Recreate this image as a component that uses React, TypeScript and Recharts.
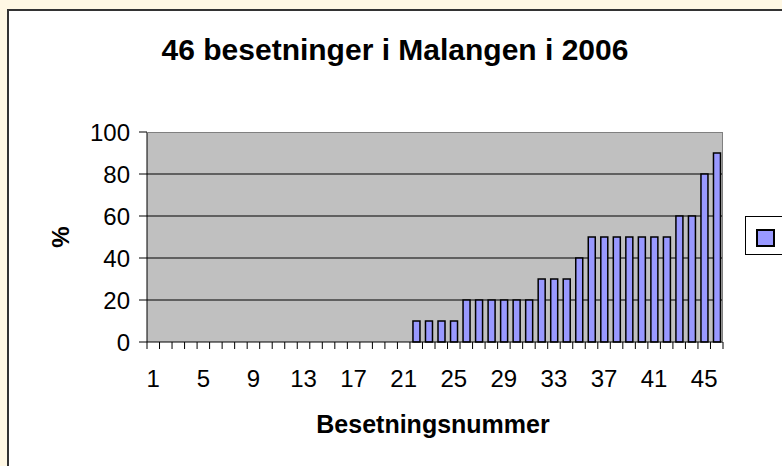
import React from 'react';
import { BarChart, Bar, XAxis, YAxis, CartesianGrid } from 'recharts';

const CATEGORIES = [
  '1', '2', '3', '4', '5', '6', '7', '8', '9', '10',
  '11', '12', '13', '14', '15', '16', '17', '18', '19', '20',
  '21', '22', '23', '24', '25', '26', '27', '28', '29', '30',
  '31', '32', '33', '34', '35', '36', '37', '38', '39', '40',
  '41', '42', '43', '44', '45', '46',
];

const PERCENT = [
  0, 0, 0, 0, 0, 0, 0, 0, 0, 0,
  0, 0, 0, 0, 0, 0, 0, 0, 0, 0,
  0, 10, 10, 10, 10, 20, 20, 20, 20, 20,
  20, 30, 30, 30, 40, 50, 50, 50, 50, 50,
  50, 50, 60, 60, 80, 90,
];

const Y_TICKS = [0, 20, 40, 60, 80, 100];
const GRID_VALUES = [20, 40, 60, 80];

const TITLE = '46 besetninger i Malangen i 2006';
const X_TITLE = 'Besetningsnummer';
const Y_TITLE = '%';

const W = 782;
const H = 466;
const PLOT = { left: 147, top: 132, right: 723, bottom: 342 };
const BAND = (PLOT.right - PLOT.left) / CATEGORIES.length;
const FONT = '"Liberation Sans", Arial, sans-serif';

const data = CATEGORIES.map((c, i) => ({ name: c, value: PERCENT[i] }));

function XTick(props: any) {
  const { x, y, payload, index } = props;
  const last = index === CATEGORIES.length - 1;
  return (
    <g>
      <line x1={x - BAND / 2} x2={x - BAND / 2} y1={y} y2={y + 7} stroke="#000" />
      {last && <line x1={x + BAND / 2} x2={x + BAND / 2} y1={y} y2={y + 7} stroke="#000" />}
      {index % 4 === 0 && (
        <text x={x} y={y + 45} textAnchor="middle" fontSize={24} fontFamily={FONT} fill="#000">
          {payload.value}
        </text>
      )}
    </g>
  );
}

export default function App() {
  return (
    <div style={{ position: 'absolute', left: 0, top: 0, width: W, height: H, background: '#FFF8E4', overflow: 'hidden', fontFamily: FONT }}>
      <div style={{ position: 'absolute', left: 7, top: 9, width: W, height: H, background: '#fff', borderLeft: '2px solid #333', borderTop: '2px solid #333' }} />
      <div style={{ position: 'absolute', left: 0, top: 0 }}>
        <BarChart
          width={W}
          height={H}
          data={data}
          margin={{ top: PLOT.top, right: W - PLOT.right, left: PLOT.left - 80, bottom: H - PLOT.bottom - 30 }}
          barCategoryGap="24%"
        >
          <CartesianGrid vertical={false} fill="#C0C0C0" stroke="#000" horizontalValues={GRID_VALUES} />
          <XAxis
            dataKey="name"
            interval={0}
            height={30}
            tickLine={false}
            tickSize={0}
            tickMargin={0}
            axisLine={{ stroke: '#000' }}
            tick={<XTick />}
          />
          <YAxis
            width={80}
            domain={[0, 100]}
            ticks={Y_TICKS}
            interval={0}
            tickSize={8}
            tickMargin={9}
            tickLine={{ stroke: '#000' }}
            axisLine={{ stroke: '#000' }}
            tick={{ fontSize: 24, fontFamily: FONT, fill: '#000' }}
          />
          <Bar dataKey="value" fill="#9999FF" stroke="#000" strokeWidth={1.5} isAnimationActive={false} />
        </BarChart>
      </div>
      <div style={{ position: 'absolute', left: PLOT.left, top: PLOT.top, width: PLOT.right - PLOT.left, height: PLOT.bottom - PLOT.top, borderTop: '1px solid #808080', borderRight: '1px solid #808080', boxSizing: 'border-box', pointerEvents: 'none' }} />
      <div style={{ position: 'absolute', left: 0, width: 790, top: 33, textAlign: 'center', fontSize: 30, fontWeight: 'bold', whiteSpace: 'nowrap' }}>{TITLE}</div>
      <div style={{ position: 'absolute', left: 0, width: 866, top: 410, textAlign: 'center', fontSize: 25, fontWeight: 'bold', whiteSpace: 'nowrap' }}>{X_TITLE}</div>
      <div style={{ position: 'absolute', left: 47, top: 223, width: 28, height: 28, display: 'flex', alignItems: 'center', justifyContent: 'center', transform: 'rotate(-90deg)', fontSize: 24, fontWeight: 'bold' }}>{Y_TITLE}</div>
      <div style={{ position: 'absolute', left: 745, top: 216, width: 60, height: 39, border: '1px solid #000', background: '#fff', boxSizing: 'border-box' }}>
        <div style={{ position: 'absolute', left: 10, top: 12, width: 15, height: 14, background: '#9999FF', border: '2px solid #000' }} />
      </div>
    </div>
  );
}
